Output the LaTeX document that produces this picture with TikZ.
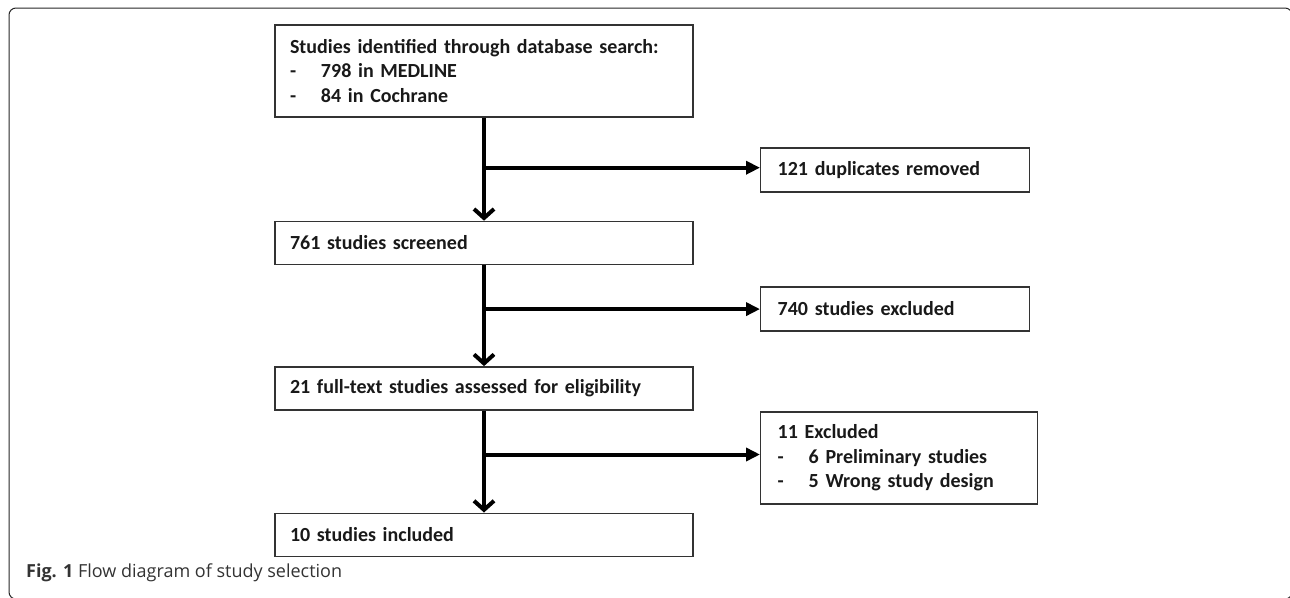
\documentclass[tikz,border=0pt]{standalone}
\usepackage{fontspec}
\setmainfont{Carlito}
\newfontfamily\capfont{Open Sans}
\usetikzlibrary{positioning,arrows.meta}
\newcommand\boxfont{\bfseries\fontsize{20}{24.5}\selectfont}
\newcommand\itm{\makebox[31pt][l]{-}}
\tikzset{
    box/.style={draw=black!80,line width=1.4pt,inner xsep=15pt,inner ysep=0pt,align=left,text=black!90},
    left box/.style={box,text width=388pt,minimum height=43pt},
    side box/.style={box,inner xsep=17pt,text width=235pt,minimum height=44pt},
    down/.style={line width=4pt,-{Straight Barb[length=9pt,width=20pt]}},
    side/.style={line width=4pt,-{Triangle[length=14pt,width=13pt]}}
}

\begin{document}
\begin{tikzpicture}[x=1pt,y=-1pt,font=\boxfont]
    \useasboundingbox (0,0) rectangle (1290,597);
    % frame
    \begin{scope}
        \clip (0,0) rectangle (1290,597);
        \draw[black!85,line width=1pt,rounded corners=7pt] (9,8) rectangle (1292,599);
    \end{scope}

    \node[left box,minimum height=92pt] (id) at (484,71) {Studies identified through database search:\\ \itm 798 in MEDLINE\\ \itm 84 in Cochrane};
    \node[left box,below=103pt of id] (scr) {761 studies screened};
    \node[left box,below=101pt of scr] (ft) {21 full-text studies assessed for eligibility};
    \node[left box,below=102pt of ft] (inc) {10 studies included};

    \node[side box,anchor=west] (dup) at (760,170) {121 duplicates removed};
    \node[side box,anchor=west] (exc) at (760,309) {740 studies excluded};
    \node[side box,anchor=west,text width=243pt,minimum height=92pt] (ftx) at (760,458) {11 Excluded\\ \itm 6 Preliminary studies\\ \itm 5 Wrong study design};

    % branch points
    \path (id.south) ++(0,50) coordinate (b1);
    \path (scr.south) ++(0,44) coordinate (b2);
    \path (ft.south) ++(0,44) coordinate (b3);

    \draw[down] (id.south) -- (scr.north);
    \draw[down] (scr.south) -- (ft.north);
    \draw[down] (ft.south) -- (inc.north);
    \draw[side] (b1) -- (b1 -| dup.west);
    \draw[side] (b2) -- (b2 -| exc.west);
    \draw[side] (b3) -- (b3 -| ftx.west);

    \node[anchor=base west,inner sep=0pt,font=\capfont\fontsize{18}{22}\selectfont,text=black!80] (cap) at (26,577) {\textbf{Fig. 1} Flow diagram of study selection};
\end{tikzpicture}
\end{document}
